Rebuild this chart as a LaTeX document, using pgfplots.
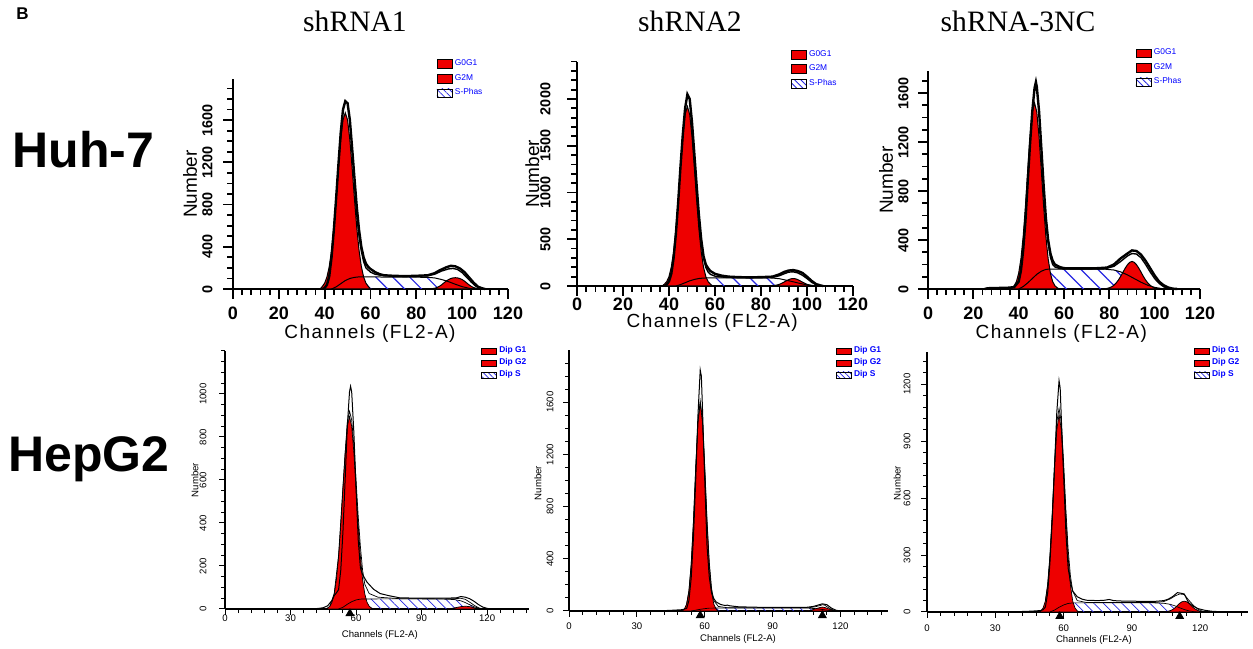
\documentclass[border=0pt]{standalone}
\usepackage{pgfplots}
\pgfplotsset{compat=1.18}
\usetikzlibrary{patterns.meta}
\usepackage{fontspec}
\setmainfont{Liberation Serif}
\setsansfont{Liberation Sans}
\newfontfamily\arial{Liberation Sans}
\newfontfamily\arialsp[LetterSpace=8]{Liberation Sans}
\definecolor{hred}{RGB}{238,0,0}
\definecolor{hblue}{RGB}{40,40,225}
\newcommand\tx{\arial\bfseries\fontsize{9}{10}\selectfont}
\newcommand\ty{\arial\bfseries\fontsize{7.2}{8}\selectfont}
\newcommand\tlx{\arialsp\fontsize{9.5}{10}\selectfont}
\newcommand\tly{\arial\fontsize{9.5}{10}\selectfont}
\newcommand\bx{\arial\fontsize{4.8}{5}\selectfont}
\pgfplotsset{
 base/.style={scale only axis, clip=false, axis lines=left, axis line style={-},
   tick align=outside, xmin=0, ymin=0, scaled ticks=false,
   /pgf/number format/1000 sep={}, /pgf/number format/assume math mode=true,
   legend cell align=left,
   legend style={draw=none, fill=none, anchor=north west, inner sep=0pt, outer sep=0pt, text=blue, nodes={inner ysep=0.4pt, inner xsep=1.3pt}}},
 top/.style={base, xmax=120, axis line style={line width=1.2pt},
   major tick length=5pt, minor tick length=3pt,
   every tick/.append style={line width=0.9pt, black},
   xtick={0,20,...,120}, minor xtick={4,8,...,116},
   xticklabel style={font=\tx, anchor=north, inner sep=1pt},
   yticklabel style={font=\ty, rotate=90, anchor=south, inner sep=1pt},
   xlabel={Channels (FL2-A)}, ylabel={Number},
   xlabel style={font=\tlx, anchor=center}, ylabel style={font=\tly, anchor=center},
   legend style={font=\arial\fontsize{4.2}{4.5}\selectfont, row sep=2pt},
   legend image code/.code={\draw[##1] (0pt,-2.2pt) rectangle (7.5pt,2.2pt);}},
 bot/.style={base, axis line style={line width=0.6pt},
   major tick length=3pt, minor tick length=2pt,
   every tick/.append style={line width=0.5pt, black},
   xtick={0,30,...,120}, minor xtick={6,12,...,138},
   xticklabel style={font=\bx, anchor=center, inner sep=0pt},
   yticklabel style={font=\bx, rotate=90, anchor=center, inner sep=0pt},
   xlabel={Channels (FL2-A)}, ylabel={Number},
   xlabel style={font=\bx, anchor=center}, ylabel style={font=\bx, anchor=center},
   legend style={font=\arial\bfseries\fontsize{4.2}{4.5}\selectfont, row sep=0.6pt},
   legend image code/.code={\draw[##1] (0pt,-1.6pt) rectangle (7.5pt,1.6pt);}},
 shatch/.style={forget plot, draw=none, pattern={Lines[angle=-45,distance=6pt,line width=0.6pt]}, pattern color=hblue},
 shatchb/.style={forget plot, draw=none, pattern={Lines[angle=-45,distance=3.3pt,line width=0.35pt]}, pattern color=hblue},
 redf/.style={forget plot, fill=hred, draw=black, line width=0.5pt},
 redfb/.style={forget plot, fill=hred, draw=black, line width=0.35pt},
 oline/.style={forget plot, draw=black, line width=0.5pt},
 olineb/.style={forget plot, draw=black, line width=0.35pt},
}
\begin{document}
\begin{tikzpicture}
\useasboundingbox (0,0) rectangle (626.5pt,324pt);
% titles
\node[anchor=base, font=\fontsize{14.8}{16}\selectfont] at (177.5pt,308pt) {shRNA1};
\node[anchor=base, font=\fontsize{14.8}{16}\selectfont] at (345pt,308pt) {shRNA2};
\node[anchor=base, font=\fontsize{14.8}{16}\selectfont] at (509pt,308pt) {shRNA-3NC};
\node[anchor=base west, inner sep=0pt, font=\arial\bfseries\fontsize{25}{26}\selectfont] at (6pt,240pt) {Huh-7};
\node[anchor=base west, inner sep=0pt, font=\arial\bfseries\fontsize{25}{26}\selectfont] at (4pt,88pt) {HepG2};
\node[anchor=base west, inner sep=0pt, font=\arial\bfseries\fontsize{8.5}{9}\selectfont] at (8pt,314pt) {B};

% ---------- Panel 1: Huh-7 shRNA1
\begin{axis}[top, at={(116.5pt,179.5pt)}, anchor=south west, width=137.5pt, height=105pt,
  ymax=1990, ytick={0,400,...,1600}, minor ytick={100,200,...,1900},
  xticklabel style={yshift=-3pt}, yticklabel style={yshift=4pt},
  ylabel style={at={(axis description cs:-0.156,0.5)}},
  xlabel style={at={(axis description cs:0.498,-0.212)}},
  legend style={at={(rel axis cs:0.74,1.095)}}]
\addplot[shatch] coordinates {(43,0)(45,20)(47,50)(49,80)(51,100)(53,110)(55,115)(60,115)(70,112)(80,112)(85,110)(88,105)(91,90)(94,70)(97,45)(100,22)(103,7)(105,0)} \closedcycle;
\addplot[redf] coordinates {(38,0)(39,25)(40,56)(41,114)(42,213)(43,368)(44,584)(45,853)(46,1144)(47,1412)(48,1602)(49,1670)(50,1602)(51,1412)(52,1144)(53,853)(54,584)(55,368)(56,213)(57,114)(58,56)(59,25)(60,0)} \closedcycle;
\addplot[redf] coordinates {(86,0)(88,7)(89,14)(90,25)(91,39)(92,57)(93,75)(94,89)(95,99)(96,105)(97,107)(98,105)(99,99)(100,89)(101,75)(102,57)(103,39)(104,25)(105,14)(106,7)(108,0)} \closedcycle;
\addplot[oline] coordinates {(43,0)(45,20)(47,50)(49,80)(51,100)(53,110)(55,115)(60,115)(70,112)(80,112)(85,110)(88,105)(91,90)(94,70)(97,45)(100,22)(103,7)(105,0)};
\addplot[oline, line width=0.7pt] coordinates {(53,1000)(54,700)(55,500)(56,360)(57,260)(58,200)(60,160)(62,140)(65,128)(70,122)(80,120)(85,125)(88,140)(91,170)(94,190)(96,195)(98,185)(100,155)(102,110)(104,65)(106,25)(108,5)(110,0)};
\addplot[oline, line width=1.2pt] coordinates {(39,0)(40,10)(41,40)(42,120)(43,300)(44,560)(45,860)(46,1180)(47,1480)(48,1700)(49,1780)(50,1760)(51,1600)(52,1330)(53,1050)(54,780)(55,560)(56,400)(57,300)(58,240)(59,210)(60,190)(62,160)(64,140)(66,130)(70,125)(75,122)(80,125)(85,130)(88,150)(90,175)(93,205)(95,220)(97,215)(99,195)(101,160)(103,110)(105,60)(107,20)(109,5)(110,0)};
\addlegendimage{fill=hred, draw=black}\addlegendentry{G0G1}
\addlegendimage{fill=hred, draw=black}\addlegendentry{G2M}
\addlegendimage{draw=black, pattern={Lines[angle=-45,distance=2.2pt,line width=0.4pt]}, pattern color=hblue}\addlegendentry{S-Phas}
\end{axis}

% ---------- Panel 2: Huh-7 shRNA2
\begin{axis}[top, at={(288.5pt,181pt)}, anchor=south west, width=138pt, height=112.2pt,
  ymax=2400, ytick={0,500,...,2000}, minor ytick={100,200,...,2400},
  yticklabel style={yshift=7pt},
  ylabel style={at={(axis description cs:-0.162,0.5)}},
  xlabel style={at={(axis description cs:0.49,-0.163)}},
  legend style={at={(rel axis cs:0.774,1.054)}}]
\addplot[shatch] coordinates {(43,0)(45,15)(47,35)(49,55)(51,70)(53,80)(55,85)(60,88)(70,88)(80,88)(85,85)(88,78)(91,62)(94,45)(97,27)(100,12)(103,4)(105,0)} \closedcycle;
\addplot[redf] coordinates {(37,0)(38,20)(39,47)(40,101)(41,203)(42,367)(43,609)(44,921)(45,1270)(46,1597)(47,1834)(48,1920)(49,1834)(50,1597)(51,1270)(52,921)(53,609)(54,367)(55,203)(56,101)(57,47)(58,20)(59,0)} \closedcycle;
\addplot[redf] coordinates {(84,0)(86,6)(87,11)(88,18)(89,29)(90,42)(91,55)(92,68)(93,77)(94,80)(95,77)(96,68)(97,55)(98,42)(99,29)(100,18)(101,11)(102,6)(104,0)} \closedcycle;
\addplot[oline] coordinates {(43,0)(45,15)(47,35)(49,55)(51,70)(53,80)(55,85)(60,88)(70,88)(80,88)(85,85)(88,78)(91,62)(94,45)(97,27)(100,12)(103,4)(105,0)};
\addplot[oline, line width=0.7pt] coordinates {(53,700)(54,460)(55,300)(56,200)(57,150)(58,125)(60,105)(65,92)(70,88)(80,88)(85,92)(88,110)(90,130)(92,148)(94,152)(96,140)(98,115)(100,80)(102,40)(104,12)(106,0)};
\addplot[oline, line width=1.2pt] coordinates {(38,0)(39,15)(40,50)(41,130)(42,300)(43,560)(44,900)(45,1280)(46,1620)(47,1900)(48,2050)(49,2000)(50,1750)(51,1420)(52,1080)(53,760)(54,500)(55,320)(56,230)(57,190)(58,160)(60,130)(63,110)(66,100)(70,95)(75,92)(80,95)(85,100)(88,125)(90,150)(92,165)(94,170)(96,160)(98,140)(100,100)(102,55)(104,20)(106,5)(107,0)};
\addlegendimage{fill=hred, draw=black}\addlegendentry{G0G1}
\addlegendimage{fill=hred, draw=black}\addlegendentry{G2M}
\addlegendimage{draw=black, pattern={Lines[angle=-45,distance=2.2pt,line width=0.4pt]}, pattern color=hblue}\addlegendentry{S-Phas}
\end{axis}

% ---------- Panel 3: Huh-7 shRNA-3NC
\begin{axis}[top, at={(464pt,179.5pt)}, anchor=south west, width=136pt, height=109pt,
  ymax=1780, ytick={0,400,...,1600}, minor ytick={100,200,...,1700},
  xticklabel style={yshift=-3pt}, yticklabel style={yshift=3.5pt},
  ylabel style={at={(axis description cs:-0.154,0.5)}},
  xlabel style={at={(axis description cs:0.49,-0.205)}},
  legend style={at={(rel axis cs:0.763,1.105)}}]
\addplot[shatch] coordinates {(40,0)(42,20)(44,50)(46,85)(48,120)(50,145)(52,160)(54,163)(60,163)(70,163)(78,162)(82,155)(85,140)(88,115)(91,85)(94,55)(97,30)(100,13)(103,4)(106,0)} \closedcycle;
\addplot[redf] coordinates {(36,0)(37,10)(38,26)(39,60)(40,129)(41,248)(42,431)(43,679)(44,966)(45,1242)(46,1445)(47,1520)(48,1445)(49,1242)(50,966)(51,679)(52,431)(53,248)(54,129)(55,60)(56,26)(57,10)(58,0)} \closedcycle;
\addplot[redf] coordinates {(78,0)(80,10)(81,18)(82,30)(83,49)(84,73)(85,103)(86,137)(87,170)(88,198)(89,218)(90,225)(91,218)(92,198)(93,170)(94,137)(95,103)(96,73)(97,49)(98,30)(99,18)(100,10)(102,0)} \closedcycle;
\addplot[oline] coordinates {(40,0)(42,20)(44,50)(46,85)(48,120)(50,145)(52,160)(54,163)(60,163)(70,163)(78,162)(82,155)(85,140)(88,115)(91,85)(94,55)(97,30)(100,13)(103,4)(106,0)};
\addplot[oline, line width=0.7pt] coordinates {(52,560)(53,380)(54,260)(55,200)(56,180)(58,168)(60,163)(70,163)(78,165)(82,185)(85,225)(88,270)(90,290)(92,285)(94,255)(96,200)(98,140)(100,85)(102,45)(104,18)(106,5)(108,0)};
\addplot[oline, line width=1.2pt] coordinates {(25,0)(26,5)(28,8)(30,8)(35,10)(38,15)(40,60)(41,150)(42,320)(43,560)(44,880)(45,1180)(46,1450)(47,1640)(47.6,1690)(48,1650)(49,1450)(50,1150)(51,850)(52,580)(53,400)(54,290)(55,230)(56,200)(58,180)(60,170)(65,168)(70,168)(75,170)(79,175)(82,200)(85,250)(88,290)(90,315)(92,310)(94,280)(96,230)(98,170)(100,110)(102,60)(104,30)(106,12)(108,3)(110,0)};
\addlegendimage{fill=hred, draw=black}\addlegendentry{G0G1}
\addlegendimage{fill=hred, draw=black}\addlegendentry{G2M}
\addlegendimage{draw=black, pattern={Lines[angle=-45,distance=2.2pt,line width=0.4pt]}, pattern color=hblue}\addlegendentry{S-Phas}
\end{axis}

% ---------- Panel 4: HepG2 shRNA1
\begin{axis}[bot, at={(112.5pt,19.5pt)}, anchor=south west, width=151.8pt, height=129pt,
  xmax=139, ymax=1200, ytick={0,200,...,1000}, minor ytick={50,100,...,1200},
  xticklabel style={yshift=-1.5pt}, yticklabel style={yshift=8pt},
  ylabel style={at={(axis description cs:-0.099,0.5)}},
  xlabel style={at={(axis description cs:0.51,-0.1)}},
  legend style={at={(rel axis cs:0.843,1.019)}}]
\addplot[shatchb] coordinates {(52,0)(54,8)(56,22)(58,34)(60,42)(62,46)(70,47)(80,47)(90,47)(100,46)(105,44)(108,38)(110,30)(112,20)(114,11)(116,4)(118,0)} \closedcycle;
\addplot[redfb] coordinates {(46,0)(47,5)(48,13)(49,32)(50,70)(51,137)(52,243)(53,389)(54,560)(55,727)(56,850)(57,895)(58,850)(59,727)(60,560)(61,389)(62,243)(63,137)(64,70)(65,32)(66,13)(67,5)(68,0)} \closedcycle;
\addplot[redfb] coordinates {(102,0)(104,3)(106,7)(108,11)(110,13)(112,11)(114,6)(116,2)(118,0)} \closedcycle;
\addplot[olineb] coordinates {(52,0)(54,8)(56,22)(58,34)(60,42)(62,46)(70,47)(80,47)(90,47)(100,46)(105,44)(108,38)(110,30)(112,20)(114,11)(116,4)(118,0)};
\addplot[olineb] coordinates {(48,13)(50,72)(52,250)(54,570)(56,870)(57,920)(58,880)(59,760)(60,600)(61,430)(62,290)(63,180)(64,115)(66,72)(70,55)(80,48)(100,47)(105,48)(108,50)(110,45)(112,32)(114,18)(116,6)(118,0)};
\addplot[olineb, line width=0.5pt] coordinates {(40,0)(43,3)(45,6)(47,15)(49,40)(50,62)(51,75)(52,90)(53,180)(54,360)(55,600)(56,850)(57,1010)(57.5,1036)(58,1010)(59,820)(60,560)(61,320)(62,190)(63,160)(65,125)(68,92)(71,72)(75,62)(80,52)(90,50)(100,50)(106,52)(108,58)(110,55)(112,48)(114,36)(116,21)(118,9)(120,3)(122,0)};
\addplot[forget plot, only marks, mark=triangle*, mark size=2.2pt, black] coordinates {(57.2,-20.5)};
\addlegendimage{fill=hred, draw=black}\addlegendentry{Dip G1}
\addlegendimage{fill=hred, draw=black}\addlegendentry{Dip G2}
\addlegendimage{draw=black, pattern={Lines[angle=-45,distance=1.8pt,line width=0.35pt]}, pattern color=hblue}\addlegendentry{Dip S}
\end{axis}

% ---------- Panel 5: HepG2 shRNA2
\begin{axis}[bot, at={(284.5pt,18.5pt)}, anchor=south west, width=159.5pt, height=130.5pt,
  xmax=141, ymax=2000, ytick={0,400,...,1600}, minor ytick={100,200,...,1900},
  xticklabel style={yshift=-4.5pt}, yticklabel style={yshift=6.5pt},
  ylabel style={at={(axis description cs:-0.097,0.49)}},
  xlabel style={at={(axis description cs:0.53,-0.107)}},
  legend style={at={(rel axis cs:0.836,1.015)}}]
\addplot[shatchb] coordinates {(54,0)(56,6)(58,13)(60,18)(62,22)(70,23)(80,23)(100,23)(106,22)(109,18)(111,14)(113,9)(115,4)(117,0)} \closedcycle;
\addplot[redfb] coordinates {(50,0)(51,16)(52,53)(53,150)(54,350)(55,679)(56,1090)(57,1447)(58,1590)(59,1447)(60,1090)(61,679)(62,350)(63,150)(64,53)(65,16)(66,0)} \closedcycle;
\addplot[redfb] coordinates {(105,0)(107,6)(109,17)(111,27)(112,30)(113,27)(115,15)(117,4)(118,0)} \closedcycle;
\addplot[olineb] coordinates {(54,0)(56,6)(58,13)(60,18)(62,22)(70,23)(80,23)(100,23)(106,22)(109,18)(111,14)(113,9)(115,4)(117,0)};
\addplot[olineb] coordinates {(52,55)(53,155)(54,360)(55,690)(56,1100)(57,1460)(58,1610)(59,1470)(60,1110)(61,700)(62,375)(63,175)(64,80)(66,35)(70,25)(80,24)(100,24)(106,25)(109,33)(111,42)(112,48)(113,45)(115,22)(117,5)(118,0)};
\addplot[olineb, line width=0.5pt] coordinates {(40,0)(42,3)(45,5)(48,8)(50,10)(52,20)(53,80)(54,250)(55,560)(56,1000)(57,1500)(58,1847)(58.5,1800)(59,1550)(60,1000)(61,500)(62,260)(63,140)(64,95)(65,70)(67,50)(69,42)(70,45)(71,40)(75,32)(85,28)(95,27)(105,28)(108,35)(110,45)(112,55)(114,48)(116,22)(118,6)(120,0)};
\addplot[forget plot, only marks, mark=triangle*, mark size=2.2pt, black] coordinates {(58,-34)(112,-34)};
\addlegendimage{fill=hred, draw=black}\addlegendentry{Dip G1}
\addlegendimage{fill=hred, draw=black}\addlegendentry{Dip G2}
\addlegendimage{draw=black, pattern={Lines[angle=-45,distance=1.8pt,line width=0.35pt]}, pattern color=hblue}\addlegendentry{Dip S}
\end{axis}

% ---------- Panel 6: HepG2 shRNA-3NC
\begin{axis}[bot, at={(463.5pt,18pt)}, anchor=south west, width=160.5pt, height=130pt,
  xmax=141, ymax=1370, ytick={0,300,...,1200}, minor ytick={60,120,...,1320},
  xticklabel style={yshift=-5pt}, yticklabel style={yshift=7pt},
  ylabel style={at={(axis description cs:-0.093,0.496)}},
  xlabel style={at={(axis description cs:0.52,-0.108)}},
  legend style={at={(rel axis cs:0.831,1.023)}}]
\addplot[shatchb] coordinates {(54,0)(56,10)(58,25)(60,37)(62,45)(64,48)(80,48)(100,48)(104,46)(107,40)(109,32)(111,22)(113,13)(115,6)(117,2)(119,0)} \closedcycle;
\addplot[redfb] coordinates {(49,0)(50,6)(51,21)(52,58)(53,141)(54,289)(55,506)(56,755)(57,960)(58,1040)(59,960)(60,755)(61,506)(62,289)(63,141)(64,58)(65,21)(66,6)(67,0)} \closedcycle;
\addplot[redfb] coordinates {(105,0)(106,4)(107,8)(108,14)(109,23)(110,35)(111,46)(112,54)(113,57)(114,54)(115,46)(116,35)(117,23)(118,14)(119,8)(120,4)(121,0)} \closedcycle;
\addplot[olineb] coordinates {(54,0)(56,10)(58,25)(60,37)(62,45)(64,48)(80,48)(100,48)(104,46)(107,40)(109,32)(111,22)(113,13)(115,6)(117,2)(119,0)};
\addplot[olineb] coordinates {(52,60)(53,145)(54,300)(55,520)(56,780)(57,1000)(58,1073)(59,1000)(60,790)(61,540)(62,330)(63,190)(64,110)(66,60)(70,50)(80,50)(100,50)(104,55)(107,70)(109,85)(111,95)(113,92)(115,62)(117,35)(119,15)(121,4)(123,0)};
\addplot[olineb, line width=0.5pt] coordinates {(40,0)(42,3)(45,4)(48,6)(50,8)(51,12)(52,26)(53,100)(54,260)(55,480)(56,760)(57,1050)(58,1219)(58.5,1180)(59,1020)(60,720)(61,420)(62,230)(63,160)(64,110)(66,80)(68,68)(70,62)(75,60)(78,62)(80,66)(82,60)(85,58)(90,57)(95,56)(100,56)(104,60)(106,68)(108,82)(110,102)(112,98)(113,95)(114,70)(115,48)(117,30)(119,18)(122,9)(125,4)(128,2)(132,0)};
\addplot[forget plot, only marks, mark=triangle*, mark size=2.2pt, black] coordinates {(58.3,-23)(111,-23)};
\addlegendimage{fill=hred, draw=black}\addlegendentry{Dip G1}
\addlegendimage{fill=hred, draw=black}\addlegendentry{Dip G2}
\addlegendimage{draw=black, pattern={Lines[angle=-45,distance=1.8pt,line width=0.35pt]}, pattern color=hblue}\addlegendentry{Dip S}
\end{axis}
\end{tikzpicture}
\end{document}
